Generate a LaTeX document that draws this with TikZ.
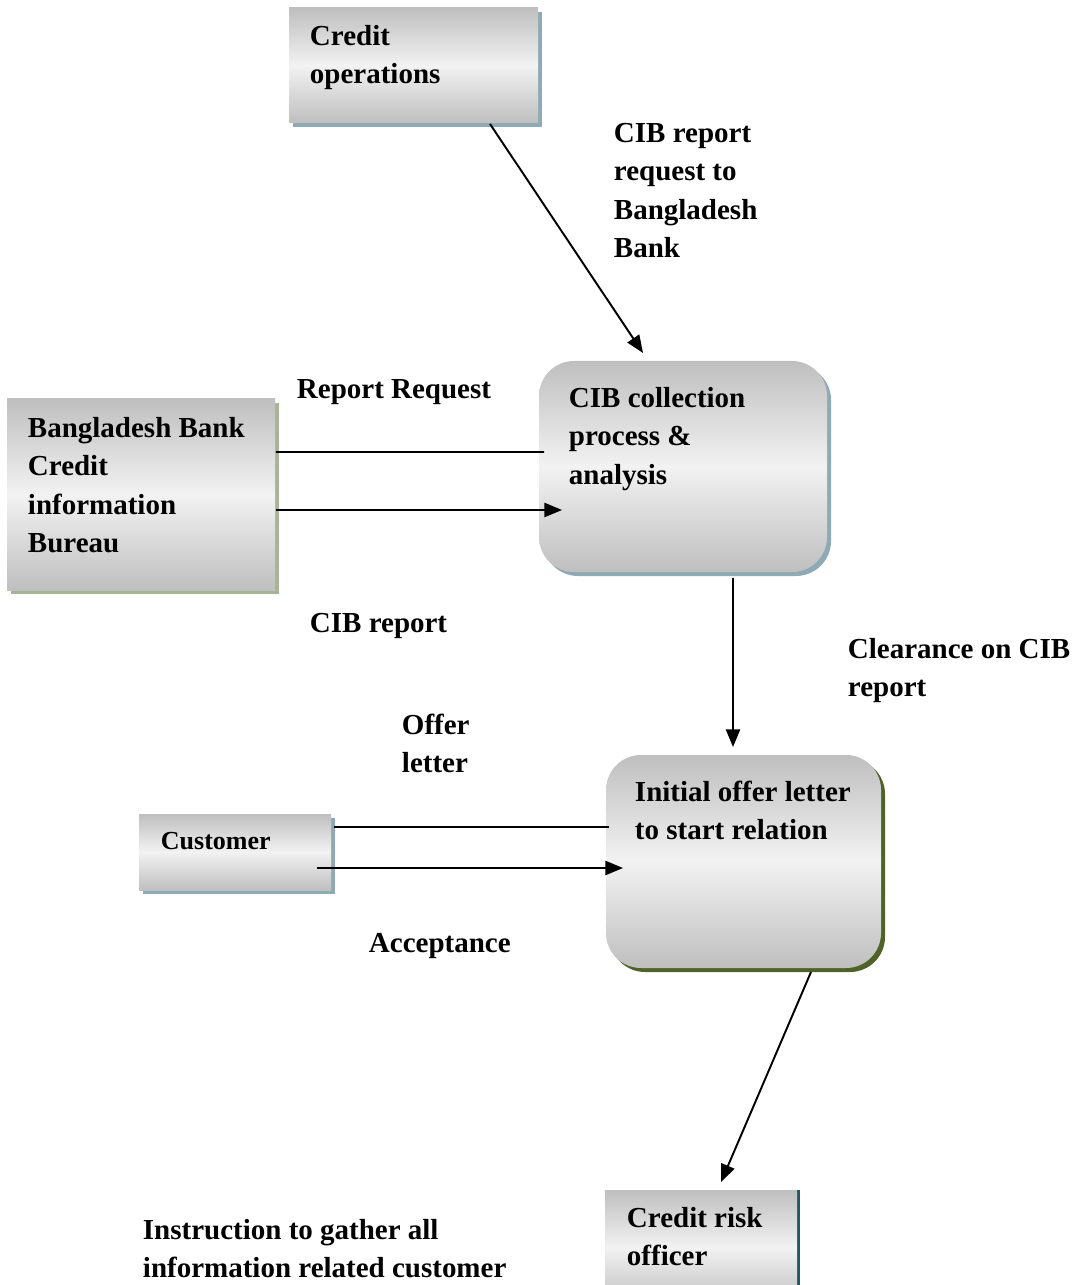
\documentclass[tikz,border=0pt]{standalone}
\usepackage{fontspec}
\setmainfont{Liberation Serif}
\usepackage{xcolor}
\usepackage{tikz}
\usetikzlibrary{positioning}
\usetikzlibrary{arrows.meta}
\usetikzlibrary{shadows}

\definecolor{boxgray}{HTML}{BFBFBF}
\definecolor{boxlight}{HTML}{F2F2F2}
\definecolor{shblue}{HTML}{8EAAB4}
\definecolor{sholive}{HTML}{A9B396}
\definecolor{shgreen}{HTML}{4F6228}
\definecolor{shteal}{HTML}{215868}

\begin{document}
\begin{tikzpicture}[semithick,line width=1.1pt,>={Triangle[length=10pt,width=8pt]},
  box/.style={rectangle,draw=none,inner sep=0pt,top color=boxgray,bottom color=boxgray,middle color=boxlight},
  boxsh/.style={drop shadow={shadow xshift=0.08cm,shadow yshift=-0.08cm,fill=#1,opacity=1}},
  roundbox/.style={box,rounded corners=0.7cm},
  txt/.style={anchor=base west,inner sep=0pt,align=left,font=\fontsize{16.5}{21.8}\selectfont\bfseries}]
\useasboundingbox (0,0) rectangle (21.48,-25.70);

\node[box,boxsh=shblue,minimum width=4.98cm,minimum height=2.30cm]       (crop)    at (8.27,-1.31)   {};
\node[box,boxsh=sholive,minimum width=5.36cm,minimum height=3.82cm]      (bbcib)   at (2.82,-9.89)   {};
\node[roundbox,boxsh=shblue,minimum width=5.76cm,minimum height=4.22cm]  (cibproc) at (13.66,-9.33)  {};
\node[box,boxsh=shblue,minimum width=3.84cm,minimum height=1.52cm]       (cust)    at (4.70,-17.04)  {};
\node[roundbox,boxsh=shgreen,minimum width=5.50cm,minimum height=4.26cm] (offer)   at (14.87,-17.23) {};
\node[box,drop shadow={shadow xshift=0.06cm,shadow yshift=0cm,fill=shteal,opacity=1},
      minimum width=3.84cm,minimum height=2.30cm]                        (risk)    at (14.02,-24.95) {};

\node[txt] (croptxt)    at (6.18,-1.67)   {Credit\\operations};
\node[txt] (bbcibtxt)   at (0.54,-11.05)  {Bangladesh Bank\\Credit\\information\\Bureau};
\node[txt] (cibproctxt) at (11.36,-9.68)  {CIB collection\\process \&\\analysis};
\node[txt,font=\fontsize{14.8}{18}\selectfont\bfseries] (custtxt) at (3.20,-16.98) {Customer};
\node[txt] (offertxt)   at (12.68,-16.79) {Initial offer letter\\to start relation};
\node[txt] (risktxt)    at (12.52,-25.31) {Credit risk\\officer};

\node[txt] (reqlbl)     at (12.26,-5.15)  {CIB report\\request to\\Bangladesh\\Bank};
\node[txt] (rrlbl)      at (5.92,-7.96)   {Report Request};
\node[txt] (cibreplbl)  at (6.18,-12.64)  {CIB report};
\node[txt] (clearlbl)   at (16.94,-13.93) {Clearance on CIB\\report};
\node[txt] (offerlbl)   at (8.02,-15.45)  {Offer\\letter};
\node[txt] (acclbl)     at (7.36,-19.04)  {Acceptance};
\node[txt] (instrlbl)   at (2.84,-25.55)  {Instruction to gather all\\information related customer};

\draw[->] ([xshift=1.53cm]crop.south) -- ([xshift=-0.80cm,yshift=0.14cm]cibproc.north);
\draw ([yshift=0.85cm]bbcib.east) -- ([xshift=0.12cm,yshift=0.29cm]cibproc.west);
\draw[->] ([yshift=-0.31cm]bbcib.east) -- ([xshift=0.48cm,yshift=-0.87cm]cibproc.west);
\draw[->] ([xshift=1.00cm,yshift=-0.10cm]cibproc.south) -- ([xshift=-0.21cm,yshift=0.14cm]offer.north);
\draw ([xshift=0.08cm,yshift=0.69cm]offer.west) -- ([xshift=0.04cm,yshift=0.50cm]cust.east);
\draw[->] ([xshift=-0.30cm,yshift=-0.32cm]cust.east) -- ([xshift=0.36cm,yshift=-0.13cm]offer.west);
\draw[->] ([xshift=1.35cm,yshift=-0.06cm]offer.south) -- ([xshift=0.40cm,yshift=0.14cm]risk.north);

\end{tikzpicture}
\end{document}
